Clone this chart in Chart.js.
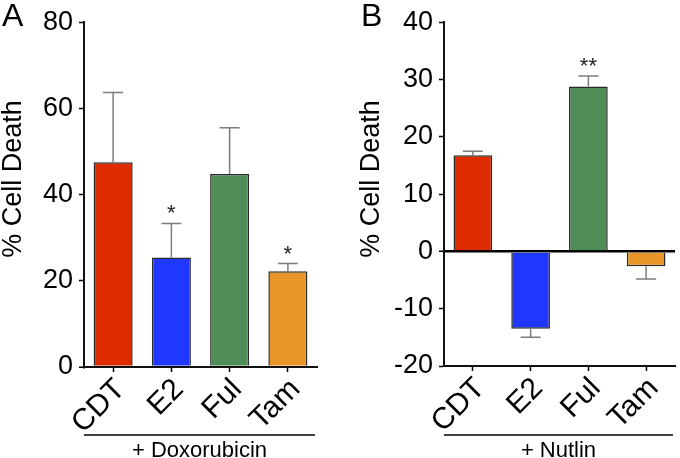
<!DOCTYPE html>
<html>
<head>
<meta charset="utf-8">
<script src="https://cdn.jsdelivr.net/npm/chart.js@4/dist/chart.umd.min.js"></script>
<style>
  html, body { margin: 0; padding: 0; background: #fff; }
  #wrap { position: relative; width: 680px; height: 458px; }
  canvas { position: absolute; top: 0; }
  #panelA { left: 0; }
  #panelB { left: 340px; }
</style>
</head>
<body>
<div id="wrap">
  <canvas id="panelA" width="340" height="458"></canvas>
  <canvas id="panelB" width="340" height="458"></canvas>
</div>
<script>
// ── Data ────────────────────────────────────────────────────────────────────
const categories = ['CDT', 'E2', 'Ful', 'Tam'];
const barColors  = ['#dc2c00', '#2037ff', '#4f8d59', '#e8962a'];

// + Doxorubicin (panel A)
const doxoMeans = [47.5, 25.4, 44.8, 22.2];
const doxoErr   = [16.2, 7.9, 10.7, 1.8];
const doxoStars = ['', '*', '', '*'];
const doxoTicks = [0, 20, 40, 60, 80];

// + Nutlin (panel B)
const nutlinMeans = [16.8, -13.5, 28.8, -2.6];
const nutlinErr   = [0.7, 1.5, 1.8, 2.2];
const nutlinStars = ['', '', '**', ''];
const nutlinTicks = [-20, -10, 0, 10, 20, 30, 40];

const FONT = '"Liberation Sans", Arial, Helvetica, sans-serif';
Chart.defaults.font.family = FONT;
Chart.defaults.color = '#000';

// ── Decorations: error bars, stars, labels, bracket ─────────────────────────
const decorPlugin = {
  id: 'decor',
  afterDatasetsDraw(chart, args, opts) {
    const { ctx, chartArea } = chart;
    const xs = chart.scales.x, ys = chart.scales.y;
    ctx.save();

    // error bars (one-sided, away from zero) + significance stars
    opts.means.forEach((m, i) => {
      const x   = xs.getPixelForValue(i);
      const dir = m >= 0 ? 1 : -1;
      const y0  = ys.getPixelForValue(m);
      const y1  = ys.getPixelForValue(m + dir * opts.errs[i]);
      ctx.strokeStyle = '#7d7d7d';
      ctx.lineWidth = 1.5;
      ctx.beginPath();
      ctx.moveTo(x, y0); ctx.lineTo(x, y1);
      ctx.moveTo(x - 10, y1); ctx.lineTo(x + 10, y1);
      ctx.stroke();

      if (opts.stars[i]) {
        ctx.fillStyle = '#222';
        ctx.font = '22px ' + FONT;
        ctx.textAlign = 'center';
        ctx.textBaseline = 'alphabetic';
        ctx.fillText(opts.stars[i], x, y1 - 3);
      }
    });

    // rotated category labels
    ctx.fillStyle = '#000';
    ctx.font = '30px ' + FONT;
    ctx.textAlign = 'right';
    ctx.textBaseline = 'top';
    categories.forEach((c, i) => {
      const x = xs.getPixelForValue(i);
      ctx.save();
      ctx.translate(x - 3, chartArea.bottom + 7);
      ctx.rotate(-Math.PI / 4);
      ctx.fillText(c, 0, 0);
      ctx.restore();
    });

    // treatment bracket
    ctx.strokeStyle = '#000';
    ctx.lineWidth = 1.5;
    ctx.beginPath();
    ctx.moveTo(chartArea.left, 435);
    ctx.lineTo(chartArea.right - 2, 435);
    ctx.stroke();
    ctx.font = '22px ' + FONT;
    ctx.textAlign = 'center';
    ctx.textBaseline = 'alphabetic';
    ctx.fillText(opts.treatment, (chartArea.left + chartArea.right - 2) / 2, 457);

    // y title
    ctx.save();
    ctx.translate(opts.titleX, 179);
    ctx.rotate(-Math.PI / 2);
    ctx.font = '27px ' + FONT;
    ctx.textAlign = 'center';
    ctx.textBaseline = 'middle';
    ctx.fillText('% Cell Death', 0, 0);
    ctx.restore();

    // panel letter
    ctx.font = '32px ' + FONT;
    ctx.textAlign = 'left';
    ctx.textBaseline = 'alphabetic';
    ctx.fillText(opts.letter, opts.letterX, 26);

    ctx.restore();
  }
};

function makePanel(id, p) {
  return new Chart(document.getElementById(id), {
    type: 'bar',
    data: {
      labels: categories,
      datasets: [{
        data: p.means,
        backgroundColor: barColors,
        borderColor: '#2b2b2b',
        borderWidth: 1.5,
        borderSkipped: 'start',
        barPercentage: 0.67,
        categoryPercentage: 1,
      }],
    },
    options: {
      responsive: false,
      animation: false,
      devicePixelRatio: 1,
      layout: { padding: { left: 0, right: p.rightPad, top: 15, bottom: 0 } },
      plugins: {
        legend: { display: false },
        tooltip: { enabled: false },
        decor: {
          means: p.means, errs: p.errs, stars: p.stars,
          treatment: p.treatment, letter: p.letter,
          letterX: p.letterX, titleX: p.titleX,
        },
      },
      scales: {
        x: {
          afterFit: s => { s.height = 458 - p.bottom; },
          ticks: { display: false },
          grid: {
            offset: false, drawOnChartArea: false,
            tickLength: 5, tickColor: '#000', tickWidth: 1.5,
          },
          border: { color: '#111', width: 2 },
        },
        y: {
          z: 1,
          min: p.ticks[0], max: p.ticks[p.ticks.length - 1],
          afterBuildTicks: s => { s.ticks = p.ticks.map(v => ({ value: v })); },
          afterFit: s => { s.width = p.axisX; },
          ticks: { font: { size: 27 }, padding: 6, color: '#000' },
          grid: {
            drawOnChartArea: true,
            color: c => (c.tick && c.tick.value === 0 && p.ticks[0] < 0) ? '#000' : 'rgba(0,0,0,0)',
            lineWidth: c => (c.tick && c.tick.value === 0) ? 2.5 : 1,
            tickLength: 5, tickColor: '#000', tickWidth: 1.5,
          },
          border: { color: '#111', width: 2 },
        },
      },
    },
    plugins: [decorPlugin],
  });
}

makePanel('panelA', {
  means: doxoMeans, errs: doxoErr, stars: doxoStars, ticks: doxoTicks,
  treatment: '+ Doxorubicin', letter: 'A', letterX: 2, titleX: 14,
  axisX: 84, rightPad: 23, bottom: 367,
});

makePanel('panelB', {
  means: nutlinMeans, errs: nutlinErr, stars: nutlinStars, ticks: nutlinTicks,
  treatment: '+ Nutlin', letter: 'B', letterX: 21, titleX: 32,
  axisX: 104, rightPad: 5, bottom: 366,
});
</script>
</body>
</html>
